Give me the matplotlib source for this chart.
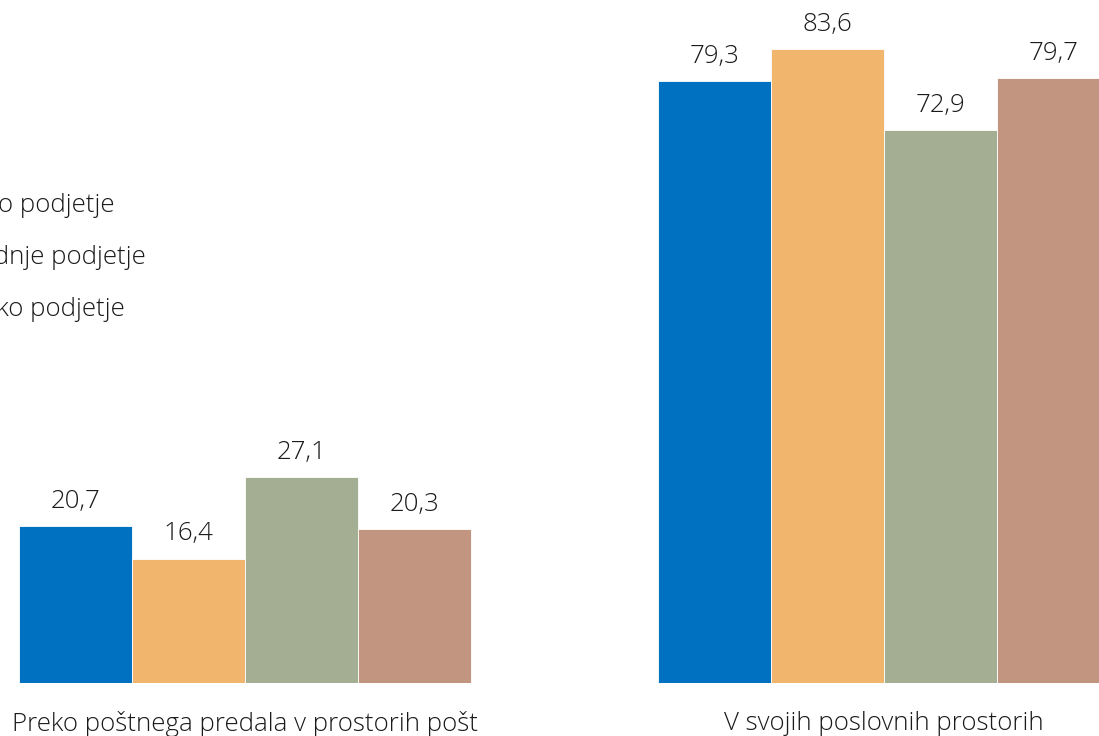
import matplotlib.pyplot as plt
import numpy as np

plt.rcParams['font.family'] = ['Open Sans', 'DejaVu Sans']

categories = ['Preko poštnega predala v prostorih pošt', 'V svojih poslovnih prostorih']
series = ['Skupaj', 'Malo podjetje', 'Srednje podjetje', 'Veliko podjetje']
values = {
    'Skupaj': [20.7, 79.3],
    'Malo podjetje': [16.4, 83.6],
    'Srednje podjetje': [27.1, 72.9],
    'Veliko podjetje': [20.3, 79.7],
}
colors = ['#0070c0', '#f2b56e', '#a3ae92', '#c29580']
txt = '#1a1a1a'
fs = 18.6

fig = plt.figure(figsize=(10.99, 7.36), dpi=100)
ax = fig.add_axes([0, 53 / 736, 1, 683 / 736])

x = np.arange(len(categories))
width = 113 / 639
bars = []
for i, name in enumerate(series):
    pos = x + (i - 1.5) * width
    b = ax.bar(pos, values[name], width, color=colors[i], edgecolor='white', linewidth=0.6)
    bars.append(b)
    for xp, v in zip(pos, values[name]):
        ax.annotate(f'{v:.1f}'.replace('.', ','), (xp, v), xytext=(0, 13),
                    textcoords='offset points', ha='center', va='baseline',
                    fontsize=fs, fontweight='light', color=txt)

ax.set_xlim(-245 / 639, (1099 - 245) / 639)
ax.set_ylim(0, 90)
ax.set_xticks(x)
ax.set_xticklabels(categories, fontsize=fs, fontweight='light', color=txt)
ax.tick_params(axis='x', length=0, pad=20)
ax.set_yticks([])
for s in ax.spines.values():
    s.set_visible(False)

# legend sits partly past the left edge of the canvas
leg = fig.legend([b[0] for b in bars[1:]], series[1:], loc='center left',
                 bbox_to_anchor=(-140 / 1099, (736 - 257.5) / 736), frameon=False,
                 fontsize=fs, labelcolor=txt, labelspacing=1.05)
for t in leg.get_texts():
    t.set_fontweight('light')

fig.savefig('out.png', dpi=100)
